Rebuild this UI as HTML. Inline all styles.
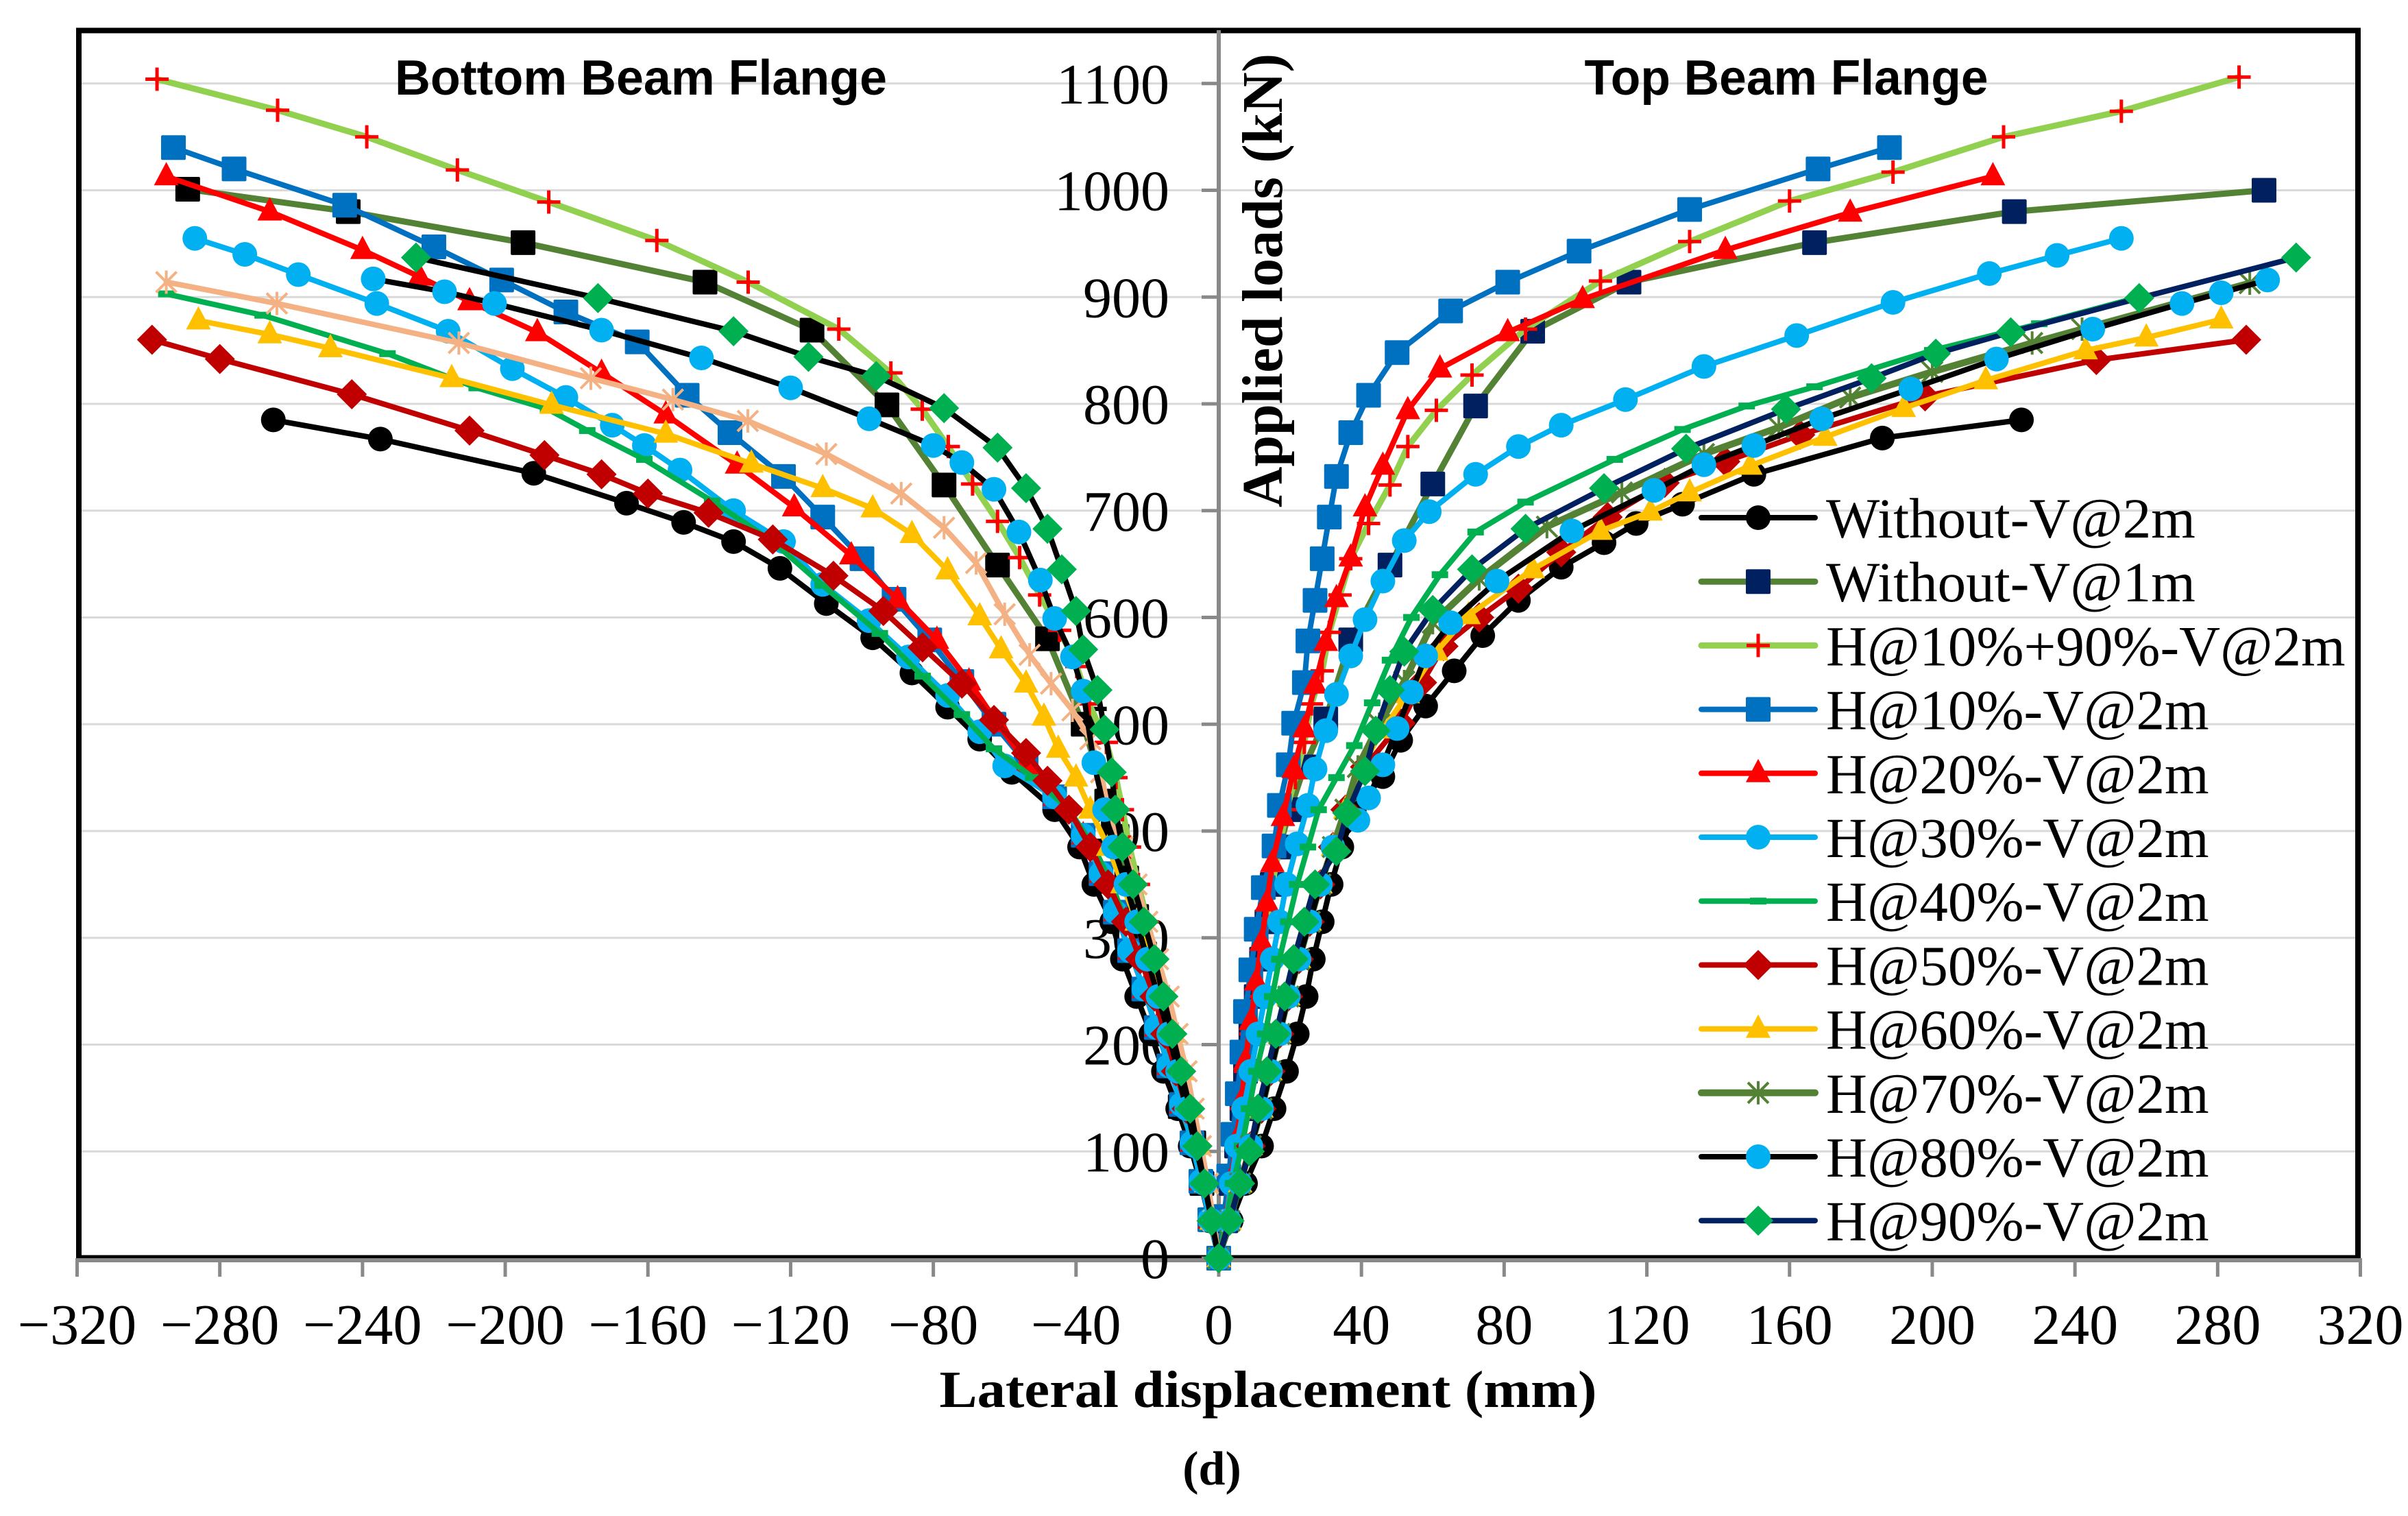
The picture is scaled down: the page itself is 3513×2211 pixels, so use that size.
<!DOCTYPE html>
<html><head><meta charset="utf-8">
<style>
html,body{margin:0;padding:0;background:#fff;}
svg{display:block;}
</style></head>
<body>
<svg id="chart" width="3513" height="2211" viewBox="0 0 3513 2211" xmlns="http://www.w3.org/2000/svg">
<rect x="0" y="0" width="3513" height="2211" fill="#fff"/>
<g id="grid"></g>
<g id="axes"></g>
<g id="series"></g>
<g id="legend"></g>
<text x="935" y="138" font-family="Liberation Sans, sans-serif" font-weight="bold" font-size="72" text-anchor="middle" textLength="718" lengthAdjust="spacingAndGlyphs">Bottom Beam Flange</text>
<text x="2606" y="138" font-family="Liberation Sans, sans-serif" font-weight="bold" font-size="72" text-anchor="middle" textLength="589" lengthAdjust="spacingAndGlyphs">Top Beam Flange</text>
<text transform="translate(1870,409) rotate(-90)" x="0" y="0" font-family="Liberation Serif, serif" font-weight="bold" font-size="84" text-anchor="middle" textLength="662" lengthAdjust="spacingAndGlyphs">Applied loads (kN)</text>
<text x="1850" y="2052" font-family="Liberation Serif, serif" font-weight="bold" font-size="76" text-anchor="middle" textLength="959" lengthAdjust="spacingAndGlyphs">Lateral displacement (mm)</text>
<text x="1768" y="2165" font-family="Liberation Serif, serif" font-weight="bold" font-size="70" text-anchor="middle">(d)</text>
</svg>
<script>
const xTicks = [-320,-280,-240,-200,-160,-120,-80,-40,0,40,80,120,160,200,240,280,320];
const yTicks = [0,100,200,300,400,500,600,700,800,900,1000,1100];
const seriesNames = ["Without-V@2m","Without-V@1m","H@10%+90%-V@2m","H@10%-V@2m","H@20%-V@2m","H@30%-V@2m","H@40%-V@2m","H@50%-V@2m","H@60%-V@2m","H@70%-V@2m","H@80%-V@2m","H@90%-V@2m"];

const s1Right = [[0,0],[3.5,35],[7.5,70],[12,105],[15.5,140],[19,175],[22,210],[24.5,245],[26.5,280],[29,315],[31.5,350],[34.5,385],[38,420],[46,451],[51,485],[58,517],[66,550],[74,583],[84,616],[96,647],[108,670],[117,688],[130,706],[150,734],[186,768],[225,785]];
const s1Left = [[0,0],[-2.5,35],[-5,70],[-8,105],[-11.5,140],[-15.5,175],[-19,210],[-23,245],[-27,280],[-30,315],[-35,350],[-39,385],[-46,420],[-58,455],[-67,486],[-76,516],[-86,548],[-97,581],[-110,613],[-123,646],[-136,671],[-150,689],[-166,707],[-192,735],[-235,767],[-265,785]];

const s2Right = [[0,0],[2,35],[3.5,70],[5,105],[6.5,140],[7.5,175],[9,210],[10.5,245],[12,280],[13.5,315],[15,350],[17,385],[20,420],[24,460],[30,505],[37,579],[48,649],[60,725],[72,798],[88,868],[115,914],[167,951],[223,980],[293,1000]];
const s2Left = [[0,0],[-2,36],[-4.7,70],[-7,108],[-10.8,142],[-13,180],[-15.6,210],[-18,250],[-20.8,285],[-23,320],[-25.8,356],[-28.5,395],[-31.4,428],[-38,500],[-48,580],[-62,649],[-77,724],[-93,799],[-114,869],[-144,914],[-195,951],[-244,980],[-289,1001]];

const s3Right = [[0,0],[2,35],[3.5,70],[5,105],[6.5,140],[7.5,175],[9,210],[10.5,245],[12,280],[13.5,315],[15,350],[17,385],[19,420],[21.5,450],[24,483],[26,519],[29,550],[31,586],[34,621],[37,655],[42,688],[48,724],[53,760],[61,794],[71,827],[86,870],[107,915],[132,952],[160,990],[189,1017],[220,1050],[253,1074],[286,1106]];
const s3Left = [[0,0],[-2,35],[-4,70],[-6,105],[-8,140],[-10,175],[-12.5,210],[-15,245],[-17.5,280],[-20,315],[-22.5,350],[-25,385],[-27,420],[-28.8,450],[-31.5,483],[-36.3,519],[-39.8,554],[-44.6,588],[-50.2,621],[-55.8,656],[-62,690],[-69,725],[-75.8,760],[-83.1,795],[-91.9,829],[-106.5,870],[-131.9,914],[-157.5,953],[-187.8,989],[-213.4,1019],[-238.8,1050],[-263.8,1075],[-297.6,1104]];

const s4Right = [[0,0],[1.5,39],[2.8,77],[4,116],[5.2,154],[6.5,193],[7.5,231],[9,270],[10.5,308],[12.5,347],[15.5,386],[17,424],[19.5,462],[21,501],[24,539],[25,578],[27,616],[29,655],[31,694],[33,732],[37,773],[42,808],[50,848],[65,887],[81,914],[101,943],[132,982],[168,1020],[188,1040]];
const s4Left = [[0,0],[-2.5,36],[-5,72],[-7.5,108],[-10.5,144],[-14,180],[-17.5,216],[-21,252],[-25,288],[-29,324],[-33,360],[-38,396],[-46,432],[-54,464],[-63,500],[-72,540],[-81,579],[-91,617],[-100,655],[-111,694],[-122,732],[-137,773],[-149,808],[-163,858],[-183,886],[-201,916],[-220,947],[-245,986],[-276,1020],[-293,1040]];

const s5Right = [[0,0],[2,37],[3.5,74],[5,111],[6.5,148],[7.5,185],[9,222],[10.5,259],[12,296],[13.5,333],[15,370],[18,413],[21,458],[24,496],[27,537],[30,577],[33,618],[37,656],[41,703],[46,742],[53,794],[62,833],[81,867],[102,898],[142,944],[177,979],[217,1013]];
const s5Left = [[0,0],[-2.5,36],[-5,72],[-7.5,108],[-10.5,144],[-14,180],[-17.5,216],[-21,252],[-25,288],[-29,324],[-33,360],[-38,396],[-46,432],[-54,464],[-62,501],[-70,540],[-79,579],[-90,617],[-103,658],[-119,703],[-135,743],[-155,790],[-173,829],[-191,867],[-210,896],[-224,919],[-240,944],[-266,980],[-295,1013]];

const s6Right = [[0,0],[2,35],[3.5,70],[5,105],[7,140],[9,175],[11,210],[13,245],[15,280],[17,315],[19,350],[22,388],[25,424],[27,458],[30,494],[33,528],[37,564],[41,598],[46,634],[52,672],[59,699],[72,734],[84,760],[96,780],[114,804],[136,835],[162,864],[189,895],[216,922],[235,939],[253,955]];
const s6Left = [[0,0],[-2.5,36],[-5,72],[-7.5,108],[-10.5,144],[-14,180],[-17.5,216],[-21,252],[-25,288],[-29,324],[-33,360],[-38,396],[-46,432],[-60,461],[-67,493],[-76,527],[-87,563],[-98,597],[-111,631],[-122,671],[-136,700],[-151,738],[-161,761],[-170,780],[-183,806],[-198,833],[-216,868],[-236,894],[-258,921],[-273,940],[-287,955]];

const s7Right = [[0,0],[2,35],[4,70],[6.5,105],[8.5,140],[10.5,175],[13,210],[15,245],[17,280],[19.5,315],[22,350],[25,385],[28,420],[33,450],[38,480],[43,520],[48,560],[54,600],[62,640],[72,680],[86,708],[111,748],[130,776],[148,798],[167,816],[200,850],[230,875],[258,900]];
const s7Left = [[0,0],[-2,35],[-4,70],[-6,105],[-9,140],[-11.5,175],[-14.5,210],[-18,245],[-22,280],[-26,315],[-30,350],[-35,385],[-42,420],[-52,450],[-63,477],[-72,509],[-83,545],[-95,585],[-111,630],[-125,671],[-142,709],[-161,748],[-177,775],[-188,795],[-208,815],[-233,847],[-268,883],[-295,903]];

const s8Right = [[0,0],[3,35],[6,70],[9,105],[12,140],[14.5,175],[17,210],[19.5,245],[22.5,280],[25.5,315],[28.5,350],[32,385],[35.5,420],[41,460],[51,501],[57,539],[63,573],[73,600],[84,627],[96,661],[109,694],[125,726],[142,746],[163,771],[198,807],[246,841],[288,860]];
const s8Left = [[0,0],[-2,35],[-4,70],[-6,105],[-9,140],[-12,175],[-15,210],[-18,245],[-22,280],[-26,315],[-31,350],[-36,385],[-42,420],[-48,447],[-54,473],[-63,504],[-72,538],[-83,572],[-94,606],[-108,639],[-125,673],[-143,698],[-160,716],[-173,734],[-189,752],[-210,775],[-243,809],[-280,842],[-299,860]];

const s9Right = [[0,0],[3,35],[6,70],[9,105],[12,140],[14.5,175],[17,210],[19.5,245],[22.5,280],[25.5,315],[28.5,350],[32,385],[35.5,420],[40,460],[46,495],[53,528],[61,568],[70,602],[88,645],[107,681],[121,699],[132,717],[149,742],[170,769],[192,796],[215,822],[243,850],[260,862],[281,879]];
const s9Left = [[0,0],[-2,35],[-3.5,70],[-5.5,105],[-8,140],[-10,175],[-13,210],[-16,245],[-19,280],[-23,315],[-27,350],[-31,385],[-36,420],[-40,450],[-45,477],[-49,507],[-54,538],[-61,570],[-67,601],[-76,644],[-86,678],[-97,702],[-111,721],[-131,744],[-155,772],[-187,799],[-215,824],[-249,852],[-266,865],[-286,878]];

const s10Right = [[0,0],[3,35],[6,70],[9,105],[12,140],[14.5,175],[17,210],[19.5,245],[22.5,280],[25.5,315],[28.5,350],[32,385],[35.5,420],[39,460],[45,500],[52,540],[60,595],[73,636],[92,685],[113,717],[136,753],[157,778],[177,806],[200,830],[228,857],[242,870],[289,913]];
const s10Left = [[0,0],[-1.5,35],[-3,70],[-5,105],[-7,140],[-9,175],[-11.5,210],[-14,245],[-17,280],[-20,315],[-23,350],[-27,385],[-31,420],[-33,455],[-36,486],[-41,513],[-47,538],[-53,565],[-60,603],[-68,651],[-77,684],[-89,716],[-110,753],[-132,784],[-153,804],[-176,824],[-213,857],[-264,894],[-295,914]];

const s11Right = [[0,0],[3,35],[6,70],[9,105],[12,140],[14.5,175],[17,210],[19.5,245],[22.5,280],[25.5,315],[28.5,350],[32,385],[39,410],[42,431],[46,462],[50,496],[54,530],[58,564],[65,595],[78,634],[99,681],[122,719],[136,743],[150,761],[169,786],[194,814],[218,842],[245,870],[270,894],[281,904],[294,916]];
const s11Left = [[0,0],[-2,35],[-4,70],[-6.5,105],[-9,140],[-11.5,175],[-14,210],[-17,245],[-20,280],[-23,315],[-26,350],[-29.5,385],[-32,420],[-35,464],[-38,531],[-41,563],[-46,599],[-50,635],[-56,680],[-63,720],[-72,745],[-80,761],[-98,786],[-120,815],[-145,843],[-173,869],[-203,894],[-217,905],[-237,917]];

const s12Right = [[0,0],[3,35],[6,70],[8.7,100],[11,140],[13.5,175],[16,210],[18.5,245],[21,280],[24,315],[27,350],[33,381],[36,417],[41,456],[44,494],[48,532],[52,568],[60,607],[71,645],[86,683],[108,721],[131,758],[159,795],[183,824],[201,847],[222,867],[258,899],[302,937]];
const s12Left = [[0,0],[-2,35],[-4,70],[-6,105],[-8,140],[-10.5,175],[-13,210],[-15.5,245],[-18,280],[-21,315],[-24,350],[-27,385],[-29,420],[-30,455],[-32,495],[-34,532],[-38,570],[-40,606],[-44,645],[-48,683],[-54,721],[-62,759],[-77,796],[-96,826],[-115,844],[-136,868],[-174,899],[-225,937]];

const rightData = [s1Right,s2Right,s3Right,s4Right,s5Right,s6Right,s7Right,s8Right,s9Right,s10Right,s11Right,s12Right];
const leftData = [s1Left,s2Left,s3Left,s4Left,s5Left,s6Left,s7Left,s8Left,s9Left,s10Left,s11Left,s12Left];

// styles: [lineColor, markerType, markerColor, lineWidth]
const rightStyle = [
 ["#000000","circle","#000000",8],
 ["#548235","square","#002060",9],
 ["#92d050","plus","#ff0000",9],
 ["#0070c0","square","#0070c0",8],
 ["#ff0000","triangle","#ff0000",8],
 ["#00b0f0","circle","#00b0f0",8],
 ["#00b050","dash","#00b050",8],
 ["#c00000","diamond","#c00000",8],
 ["#ffc000","triangle","#ffc000",8],
 ["#548235","asterisk","#548235",10],
 ["#000000","circle","#00b0f0",8],
 ["#002060","diamond","#00b050",8]
];
const leftStyle = [
 ["#000000","circle","#000000",8],
 ["#548235","square","#000000",9],
 ["#92d050","plus","#ff0000",9],
 ["#0070c0","square","#0070c0",8],
 ["#ff0000","triangle","#ff0000",8],
 ["#00b0f0","circle","#00b0f0",8],
 ["#00b050","dash","#00b050",8],
 ["#c00000","diamond","#c00000",8],
 ["#ffc000","triangle","#ffc000",8],
 ["#f4b183","asterisk","#f4b183",8],
 ["#000000","circle","#00b0f0",8],
 ["#000000","diamond","#00b050",8]
];

const NS = "http://www.w3.org/2000/svg";
const X0 = 1778, XS = 5.2047, Y0 = 1835, YS = 1.5575;
function xScale(v){ return X0 + v*XS; }
function yScale(v){ return Y0 - v*YS; }
function mk(tag, attrs, parent){
  const e = document.createElementNS(NS, tag);
  for (const k in attrs) e.setAttribute(k, attrs[k]);
  parent.appendChild(e);
  return e;
}

const grid = document.getElementById('grid');
const axes = document.getElementById('axes');
yTicks.forEach(function(t){
  if (t === 0) return;
  const gl = mk('line', {x1:118, x2:3440, y1:yScale(t), y2:yScale(t), stroke:'#d9d9d9', 'stroke-width':3}, grid);
  
  
});
// frame
const frame = mk('rect', {x:115, y:44.5, width:3325, height:1790, fill:'none', stroke:'#000', 'stroke-width':8}, axes);


const xAxis = mk('line', {x1:112, x2:3443, y1:1838, y2:1838, stroke:'#898989', 'stroke-width':6}, axes);


const yAxis = mk('line', {x1:xScale(0), x2:xScale(0), y1:44, y2:1835, stroke:'#898989', 'stroke-width':6}, axes);


xTicks.forEach(function(t){
  const tk = mk('line', {x1:xScale(t), x2:xScale(t), y1:1835, y2:1862, stroke:'#898989', 'stroke-width':5}, axes);
  
  
  const lb = mk('text', {x:xScale(t), y:1960, 'font-family':'Liberation Serif, serif', 'font-size':84, 'text-anchor':'middle'}, axes);
  lb.textContent = t < 0 ? '\u2212' + Math.abs(t) : String(t);
  
  
});
yTicks.forEach(function(t){
  const tk = mk('line', {x1:xScale(0)-25, x2:xScale(0), y1:yScale(t), y2:yScale(t), stroke:'#898989', 'stroke-width':5}, axes);
  
  
  const lb = mk('text', {x:1706, y:yScale(t)+29, 'font-family':'Liberation Serif, serif', 'font-size':84, 'text-anchor':'end'}, axes);
  lb.textContent = String(t);
  
  
});

function drawMarker(type, color, cx, cy, parent){
  let e;
  if (type === 'circle') {
    e = mk('circle', {cx:cx, cy:cy, r:18, fill:color}, parent);
  } else if (type === 'square') {
    e = mk('rect', {x:cx-18, y:cy-18, width:36, height:36, rx:2, fill:color}, parent);
  } else if (type === 'triangle') {
    e = mk('polygon', {points:(cx)+','+(cy-21)+' '+(cx+18)+','+(cy+13)+' '+(cx-18)+','+(cy+13), fill:color}, parent);
  } else if (type === 'diamond') {
    e = mk('polygon', {points:cx+','+(cy-22)+' '+(cx+22)+','+cy+' '+cx+','+(cy+22)+' '+(cx-22)+','+cy, fill:color}, parent);
  } else if (type === 'plus') {
    e = mk('path', {d:'M'+(cx-17)+' '+cy+'H'+(cx+17)+'M'+cx+' '+(cy-17)+'V'+(cy+17), stroke:color, 'stroke-width':5, fill:'none'}, parent);
  } else if (type === 'dash') {
    e = mk('rect', {x:cx-12, y:cy-5, width:24, height:10, fill:color}, parent);
  } else {
    e = mk('path', {d:'M'+(cx-15)+' '+(cy-15)+'L'+(cx+15)+' '+(cy+15)+'M'+(cx+15)+' '+(cy-15)+'L'+(cx-15)+' '+(cy+15)+'M'+cx+' '+(cy-17)+'V'+(cy+17), stroke:color, 'stroke-width':4, fill:'none'}, parent);
  }
  return e;
}

const seriesG = document.getElementById('series');
function drawSide(data, style, idx, side){
  const g = mk('g', {}, seriesG);
  
  
  const pts = data.map(function(p){ return xScale(p[0]).toFixed(1) + ',' + yScale(p[1]).toFixed(1); }).join(' ');
  const pl = mk('polyline', {points:pts, fill:'none', stroke:style[0], 'stroke-width':style[3], 'stroke-linejoin':'round', 'stroke-linecap':'round'}, g);
  
  
  data.forEach(function(p, j){
    const m = drawMarker(style[1], style[2], xScale(p[0]), yScale(p[1]), g);
    
    
  });
}
for (let i = 0; i < 12; i++) {
  drawSide(leftData[i], leftStyle[i], i, 'bottom-flange');
  drawSide(rightData[i], rightStyle[i], i, 'top-flange');
}

const legend = document.getElementById('legend');
seriesNames.forEach(function(name, i){
  const cy = 755 + i*93.2;
  const g = mk('g', {}, legend);
  
  
  const st = rightStyle[i];
  const ln = mk('line', {x1:2482, x2:2648, y1:cy, y2:cy, stroke:st[0], 'stroke-width':st[3], 'stroke-linecap':'round'}, g);
  
  
  const m = drawMarker(st[1], st[2], 2565, cy, g);
  
  
  const tx = mk('text', {x:2664, y:cy+29, 'font-family':'Liberation Serif, serif', 'font-size':83}, g);
  tx.textContent = name;
  
  
});
</script>
</body></html>
